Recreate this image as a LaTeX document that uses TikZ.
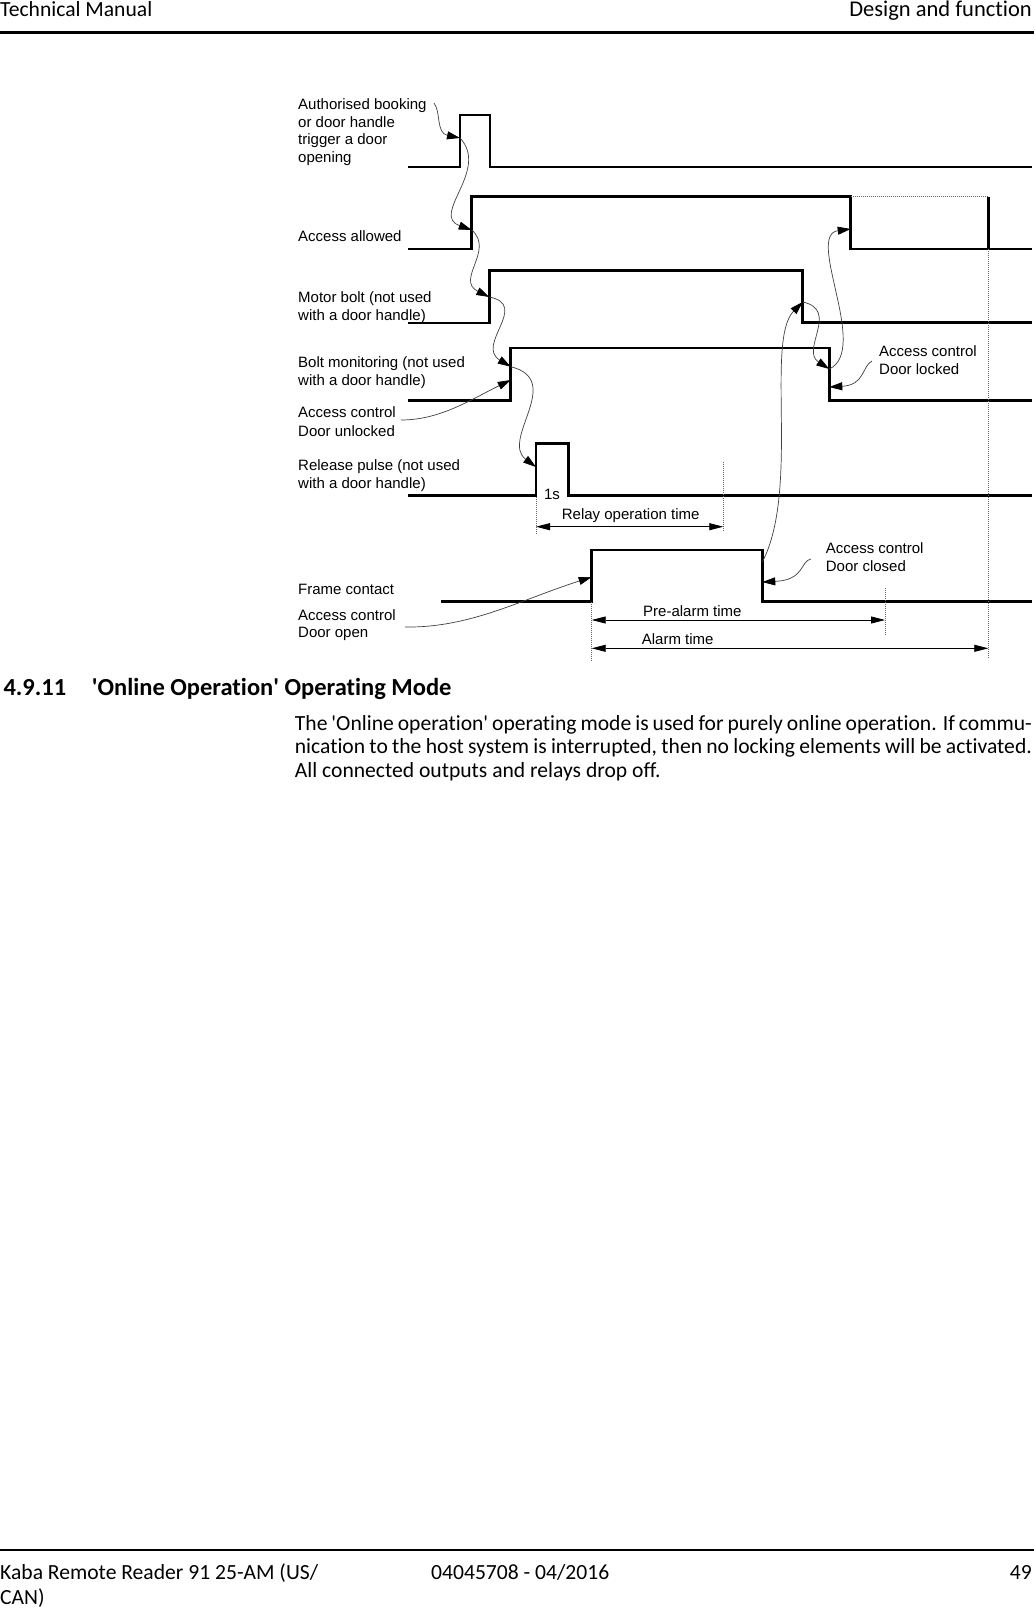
\documentclass[tikz,border=0pt]{standalone}
\usepackage{fontspec}
\setmainfont{Carlito}[Ligatures=NoCommon]
\newfontfamily\arialfont{Liberation Sans}
\usetikzlibrary{arrows.meta}
\begin{document}
\begin{tikzpicture}[x=1pt,y=-1pt,
  sig/.style={line width=2.6pt, line join=miter, line cap=butt},
  thinsig/.style={line width=2pt, line join=miter, line cap=butt},
  conn/.style={line width=0.7pt, draw=black!75, -{Triangle[length=13pt,width=8pt,color=black]}},
  dim/.style={line width=0.8pt, {Triangle[length=14pt,width=7pt]}-{Triangle[length=14pt,width=7pt]}},
  guide/.style={line width=0.6pt, draw=black!60, dash pattern=on 1pt off 1pt},
  lbl/.style={font=\arialfont\fontsize{15}{18}\selectfont, anchor=base west, inner sep=0pt},
  pg/.style={font=\fontsize{21.6}{24}\selectfont, anchor=base west, inner sep=0pt},
  pgb/.style={font=\bfseries\fontsize{24.5}{28}\selectfont, anchor=base west, inner sep=0pt},
]
\fill[white] (0,0) rectangle (1034,1609);
\useasboundingbox (0,0) rectangle (1034,1609);

% ---------- page header / footer ----------
\node[pg] (hl) at (0,16) {Technical Manual};
\node[pg,anchor=base east,font=\fontsize{22.5}{24}\selectfont] (hr) at (1032,16) {Design and function};
\draw[line width=3pt] (0,32.5) -- (1034,32.5);
\draw[line width=2.7pt] (0,1550) -- (1034,1550);
\node[pg] (f1) at (0,1579.5) {Kaba Remote Reader 91 25-AM (US/};
\node[pg] (f2) at (0,1604) {CAN)};
\node[pg] (f3) at (431,1579.5) {04045708 - 04/2016};
\node[pg,anchor=base east] (f4) at (1032,1579.5) {49};

% ---------- section text ----------
\node[pgb] (secnum) at (3.3,695) {4.9.11};
\node[pgb] (sectitle) at (91.7,695) {\textquotesingle Online Operation\textquotesingle{} Operating Mode};
\node[pg] (b1) at (294.7,730) {\makebox[737pt][s]{The \textquotesingle Online operation\textquotesingle{} operating mode is used for purely online operation. If commu-}};
\node[pg] (b2) at (294.7,753.6) {\makebox[737pt][s]{nication to the host system is interrupted, then no locking elements will be activated.}};
\node[pg] (b3) at (294.7,777.2) {All connected outputs and relays drop off.};

% ---------- labels ----------
\node[lbl] (auth1) at (298,109.3) {Authorised booking};
\node[lbl] (auth2) at (298,127) {or door handle};
\node[lbl] (auth3) at (298,144.7) {trigger a door};
\node[lbl] (auth4) at (298,162.4) {opening};
\node[lbl] (accl) at (298,241.7) {Access allowed};
\node[lbl] (mot1) at (298,302.7) {Motor bolt (not used};
\node[lbl] (mot2) at (298,320) {with a door handle)};
\node[lbl] (bolt1) at (298,367.3) {Bolt monitoring (not used};
\node[lbl] (bolt2) at (298,385) {with a door handle)};
\node[lbl] (unl1) at (298,417.3) {Access control};
\node[lbl] (unl2) at (298,436) {Door unlocked};
\node[lbl] (rel1) at (298,470) {Release pulse (not used};
\node[lbl] (rel2) at (298,488.3) {with a door handle)};
\node[lbl] (frm) at (298,594) {Frame contact};
\node[lbl] (opn1) at (298,620) {Access control};
\node[lbl] (opn2) at (298,637.3) {Door open};
\node[lbl] (lck1) at (879,356.7) {Access control};
\node[lbl] (lck2) at (879,374.3) {Door locked};
\node[lbl] (cls1) at (825.7,553.3) {Access control};
\node[lbl] (cls2) at (825.7,571.7) {Door closed};
\node[lbl,anchor=base] (ones) at (552,499.3) {1s};
\node[lbl] (relay) at (561.7,519.3) {Relay operation time};
\node[lbl] (pre) at (643,616.7) {Pre-alarm time};
\node[lbl] (alarm) at (641.7,644) {Alarm time};

% ---------- signals ----------
\draw[thinsig] (408,167) -- (460,167) -- (460,115) -- (490,115) -- (490,167) -- (1032,167);
\draw[sig] (408,249) -- (471.7,249) -- (471.7,196.7) -- (850.7,196.7) -- (850.7,249) -- (1032,249);
\draw[guide] (850.7,196.7) -- (988.3,196.7);
\draw[sig] (988.3,196.7) -- (988.3,249);
\draw[sig] (408,323) -- (489.3,323) -- (489.3,270.7) -- (802.7,270.7) -- (802.7,322.7) -- (1032,322.7);
\draw[sig] (408,400.5) -- (510.7,400.5) -- (510.7,348) -- (829.3,348) -- (829.3,400.5) -- (1032,400.5);
\draw[sig] (408,495.7) -- (536,495.7) -- (536,443.3) -- (568.3,443.3) -- (568.3,495.7) -- (1032,495.7);
\draw[sig] (441,601.7) -- (591.7,601.7) -- (591.7,550) -- (762.3,550) -- (762.3,601.7) -- (1032,601.7);

% ---------- edge points ----------
\coordinate (authEnd) at (434,103);
\coordinate (trigR) at (460,138);
\coordinate (accR) at (471.7,230);
\coordinate (motR) at (489.3,297);
\coordinate (boltR1) at (510.7,366.7);
\coordinate (boltR2) at (510.7,380);
\coordinate (relR) at (536,467);
\coordinate (unlEnd) at (401,420);
\coordinate (motF) at (802.7,302);
\coordinate (boltF) at (829.3,369);
\coordinate (accF) at (850.7,229);
\coordinate (boltF2) at (829.3,387);
\coordinate (lckEnd) at (872,361);
\coordinate (frF1) at (762.3,562);
\coordinate (frF2) at (762.3,582);
\coordinate (clsEnd) at (811,559);
\coordinate (frR) at (591.7,577);
\coordinate (opnEnd) at (405,627);

% ---------- connectors ----------
\draw[conn] (authEnd) .. controls (441,112) and (436,133) .. (trigR);
\draw[conn] (trigR) .. controls (490,170) and (430,215) .. (accR);
\draw[conn] (accR) .. controls (495,250) and (455,280) .. (motR);
\draw[conn] (motR) .. controls (530,305) and (475,345) .. (boltR1);
\draw[conn] (boltR1) .. controls (565,380) and (500,440) .. (relR);
\draw[conn] (unlEnd) .. controls (440,420) and (470,400) .. (boltR2);
\draw[conn] (frF1) .. controls (800,490) and (765,340) .. (motF);
\draw[conn] (motF) .. controls (840,310) and (800,350) .. (boltF);
\draw[conn] (boltF) .. controls (870,350) and (805,235) .. (accF);
\draw[conn] (lckEnd) .. controls (862,366) and (865,385) .. (boltF2);
\draw[conn] (clsEnd) .. controls (800,561) and (805,580) .. (frF2);
\draw[conn] (opnEnd) .. controls (470,628) and (520,600) .. (frR);

% ---------- dimension guides and arrows ----------
\coordinate (rlA) at (536,526.7);
\coordinate (rlB) at (723.3,526.7);
\coordinate (paA) at (591.7,620);
\coordinate (paB) at (885,620);
\coordinate (alA) at (591.7,648.3);
\coordinate (alB) at (988.3,648.3);
\draw[guide] (536,497) -- (536,535);
\draw[guide] (723.3,461.7) -- (723.3,531.7);
\draw[guide] (885,588) -- (885,635);
\draw[guide] (988.3,249) -- (988.3,658);
\draw[guide] (591.7,601.7) -- (591.7,661.7);
\draw[dim] (rlA) -- (rlB);
\draw[dim] (paA) -- (paB);
\draw[dim] (alA) -- (alB);
\end{tikzpicture}
\end{document}
